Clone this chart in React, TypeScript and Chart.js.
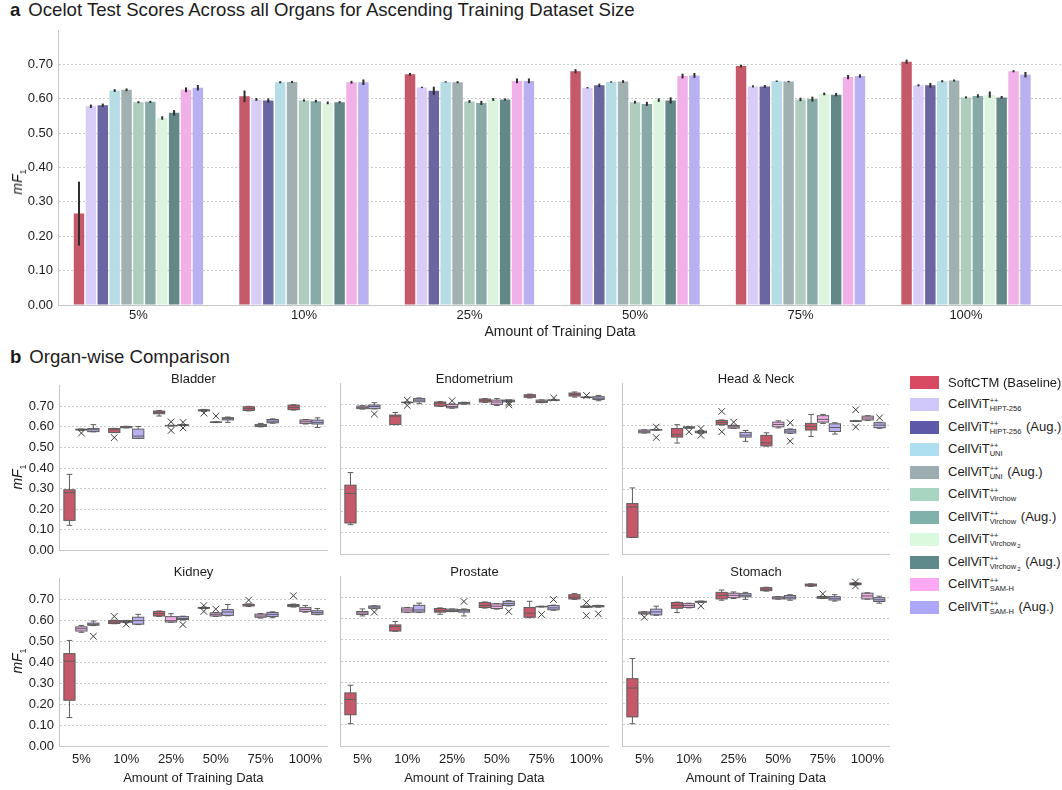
import { useEffect, useRef } from 'react';
import { Chart, registerables } from 'chart.js';

Chart.register(...registerables);

const FONT = '"Liberation Sans", Arial, Helvetica, sans-serif';
const TEXT_COLOR = '#1c1c1c';
const AXIS_COLOR = '#c6c6c6';
const GRID_COLOR = '#cbcbcb';
const BOX_EDGE = '#5e5e5e';

// Training-set fractions shown on every x axis
const trainingSizes = ['5%', '10%', '25%', '50%', '75%', '100%'];
const sizeIndex = [0, 1, 2, 3, 4, 5];

// Panel a: mean mF1 on the Ocelot test set, one array per model
const softctmMean = [0.266, 0.607, 0.671, 0.680, 0.695, 0.708];
const hipt256Mean = [0.578, 0.598, 0.633, 0.632, 0.636, 0.639];
const hipt256AugMean = [0.581, 0.595, 0.623, 0.639, 0.636, 0.639];
const uniMean = [0.624, 0.648, 0.649, 0.649, 0.651, 0.651];
const uniAugMean = [0.626, 0.649, 0.648, 0.650, 0.650, 0.653];
const virchowMean = [0.590, 0.595, 0.592, 0.590, 0.598, 0.604];
const virchowAugMean = [0.591, 0.593, 0.588, 0.585, 0.599, 0.608];
const virchow2Mean = [0.544, 0.588, 0.598, 0.596, 0.614, 0.612];
const virchow2AugMean = [0.559, 0.590, 0.598, 0.595, 0.612, 0.604];
const samhMean = [0.626, 0.648, 0.652, 0.666, 0.663, 0.680];
const samhAugMean = [0.632, 0.648, 0.652, 0.668, 0.666, 0.670];

// Panel a: half-length of each error bar
const softctmErr = [0.093, 0.017, 0.004, 0.006, 0.004, 0.006];
const hipt256Err = [0.005, 0.004, 0.002, 0.002, 0.003, 0.003];
const hipt256AugErr = [0.005, 0.006, 0.012, 0.005, 0.004, 0.007];
const uniErr = [0.004, 0.003, 0.002, 0.002, 0.002, 0.003];
const uniAugErr = [0.004, 0.003, 0.003, 0.004, 0.002, 0.003];
const virchowErr = [0.003, 0.003, 0.004, 0.004, 0.005, 0.003];
const virchowAugErr = [0.003, 0.004, 0.006, 0.006, 0.007, 0.005];
const virchow2Err = [0.005, 0.004, 0.004, 0.005, 0.004, 0.009];
const virchow2AugErr = [0.008, 0.003, 0.003, 0.009, 0.005, 0.004];
const samhErr = [0.007, 0.004, 0.007, 0.007, 0.006, 0.003];
const samhAugErr = [0.008, 0.008, 0.007, 0.007, 0.005, 0.008];

const overviewMeans = [
  softctmMean, hipt256Mean, hipt256AugMean, uniMean, uniAugMean, virchowMean,
  virchowAugMean, virchow2Mean, virchow2AugMean, samhMean, samhAugMean,
];
const overviewErrors = [
  softctmErr, hipt256Err, hipt256AugErr, uniErr, uniAugErr, virchowErr,
  virchowAugErr, virchow2Err, virchow2AugErr, samhErr, samhAugErr,
];

const modelLabels = [
  'SoftCTM (Baseline)', 'CellViT++ HIPT-256', 'CellViT++ HIPT-256 (Aug.)', 'CellViT++ UNI',
  'CellViT++ UNI (Aug.)', 'CellViT++ Virchow', 'CellViT++ Virchow (Aug.)', 'CellViT++ Virchow2',
  'CellViT++ Virchow2 (Aug.)', 'CellViT++ SAM-H', 'CellViT++ SAM-H (Aug.)',
];
const barColors = [
  '#c5596a', '#d8cdf6', '#6a66a1', '#b6dce6', '#a1b0b1', '#aecdbf',
  '#87aaa6', '#dcf4de', '#648888', '#f2b0e9', '#b8b0f0',
];
const legendColors = [
  '#d74a62', '#d0c8fb', '#5d59a8', '#aedff0', '#9badb0', '#a8d5c1',
  '#80b1aa', '#dbfadd', '#5f8a8b', '#fda8f2', '#aca7f8',
];

// Legend text pieces: CellViT++ with subscript backbone name
const legendBackbones = ['', 'HIPT-256', 'HIPT-256', 'UNI', 'UNI', 'Virchow', 'Virchow', 'Virchow', 'Virchow', 'SAM-H', 'SAM-H'];
const legendBackboneIndex = ['', '', '', '', '', '', '', '2', '2', '', ''];
const legendSuffixes = ['', '', ' (Aug.)', '', ' (Aug.)', '', ' (Aug.)', '', ' (Aug.)', '', ' (Aug.)'];

// Panel b: box statistics per training fraction: [whisker low, Q1, median, Q3, whisker high]
type Box = [number, number, number, number, number];
// Outliers: [series (0 SoftCTM, 1 SAM-H, 2 SAM-H Aug.), training-fraction index, value]
type Outlier = [number, number, number];

const boxSeries = ['SoftCTM (Baseline)', 'CellViT++ SAM-H', 'CellViT++ SAM-H (Aug.)'];
const boxColors = ['#c5596a', '#f2b0e9', '#b8b0f0'];

const bladderSoftCTM: Box[] = [
  [0.121, 0.145, 0.280, 0.294, 0.369], [0.572, 0.573, 0.586, 0.592, 0.593], [0.653, 0.664, 0.670, 0.677, 0.680],
  [0.676, 0.678, 0.680, 0.683, 0.685], [0.678, 0.680, 0.689, 0.698, 0.700], [0.682, 0.684, 0.695, 0.706, 0.708],
];
const bladderSamH: Box[] = [
  [0.583, 0.585, 0.587, 0.589, 0.590], [0.595, 0.596, 0.599, 0.602, 0.603], [0.604, 0.605, 0.606, 0.607, 0.608],
  [0.621, 0.622, 0.623, 0.624, 0.625], [0.600, 0.602, 0.606, 0.612, 0.617], [0.614, 0.617, 0.625, 0.634, 0.636],
];
const bladderSamHAug: Box[] = [
  [0.576, 0.577, 0.586, 0.592, 0.611], [0.544, 0.544, 0.555, 0.589, 0.602], [0.607, 0.608, 0.609, 0.610, 0.611],
  [0.622, 0.634, 0.640, 0.645, 0.648], [0.618, 0.620, 0.628, 0.636, 0.639], [0.597, 0.614, 0.622, 0.633, 0.644],
];
const bladderOutliers: Outlier[] = [
  [1, 0, 0.570], [0, 1, 0.548], [1, 2, 0.625], [1, 2, 0.583], [2, 2, 0.622], [2, 2, 0.595], [0, 3, 0.667], [1, 3, 0.653],
];

const endometriumSoftCTM: Box[] = [
  [0.137, 0.145, 0.283, 0.322, 0.381], [0.605, 0.606, 0.645, 0.650, 0.662], [0.690, 0.692, 0.705, 0.711, 0.713],
  [0.709, 0.711, 0.719, 0.725, 0.727], [0.730, 0.733, 0.740, 0.745, 0.748], [0.734, 0.739, 0.746, 0.753, 0.758],
];
const endometriumSamH: Box[] = [
  [0.678, 0.680, 0.686, 0.692, 0.694], [0.707, 0.708, 0.709, 0.710, 0.711], [0.682, 0.684, 0.690, 0.700, 0.702],
  [0.695, 0.700, 0.711, 0.720, 0.727], [0.708, 0.709, 0.714, 0.720, 0.721], [0.731, 0.732, 0.733, 0.734, 0.735],
];
const endometriumSamHAug: Box[] = [
  [0.679, 0.680, 0.690, 0.697, 0.708], [0.703, 0.712, 0.720, 0.727, 0.730], [0.701, 0.702, 0.705, 0.709, 0.710],
  [0.712, 0.712, 0.716, 0.720, 0.721], [0.719, 0.719, 0.720, 0.721, 0.722], [0.717, 0.723, 0.729, 0.736, 0.742],
];
const endometriumOutliers: Outlier[] = [
  [2, 0, 0.655], [1, 1, 0.720], [1, 1, 0.695], [1, 2, 0.717], [2, 3, 0.708], [2, 3, 0.698], [2, 4, 0.730], [1, 5, 0.742],
];

const headNeckSoftCTM: Box[] = [
  [0.077, 0.078, 0.220, 0.236, 0.309], [0.519, 0.547, 0.558, 0.587, 0.605], [0.603, 0.605, 0.615, 0.625, 0.627],
  [0.505, 0.506, 0.520, 0.555, 0.567], [0.550, 0.580, 0.597, 0.611, 0.653], [0.620, 0.621, 0.622, 0.623, 0.624],
];
const headNeckSamH: Box[] = [
  [0.566, 0.567, 0.574, 0.580, 0.581], [0.588, 0.589, 0.592, 0.595, 0.596], [0.588, 0.589, 0.595, 0.601, 0.603],
  [0.590, 0.595, 0.606, 0.617, 0.623], [0.611, 0.617, 0.630, 0.647, 0.653], [0.625, 0.627, 0.636, 0.645, 0.647],
];
const headNeckSamHAug: Box[] = [
  [0.579, 0.580, 0.581, 0.582, 0.583], [0.565, 0.567, 0.571, 0.575, 0.577], [0.527, 0.547, 0.556, 0.569, 0.578],
  [0.564, 0.566, 0.575, 0.583, 0.585], [0.561, 0.573, 0.592, 0.609, 0.614], [0.588, 0.591, 0.603, 0.614, 0.616],
];
const headNeckOutliers: Outlier[] = [
  [2, 0, 0.594], [2, 0, 0.545], [1, 1, 0.572], [2, 1, 0.587], [2, 1, 0.555], [0, 2, 0.667], [0, 2, 0.572],
  [1, 2, 0.617], [2, 3, 0.614], [2, 3, 0.528], [0, 5, 0.675], [0, 5, 0.594], [2, 5, 0.637],
];

const kidneySoftCTM: Box[] = [
  [0.136, 0.219, 0.406, 0.442, 0.505], [0.585, 0.586, 0.593, 0.600, 0.602], [0.620, 0.622, 0.633, 0.644, 0.646],
  [0.658, 0.659, 0.661, 0.663, 0.664], [0.668, 0.670, 0.674, 0.678, 0.680], [0.665, 0.667, 0.672, 0.677, 0.679],
];
const kidneySamH: Box[] = [
  [0.544, 0.550, 0.561, 0.570, 0.577], [0.590, 0.592, 0.596, 0.600, 0.601], [0.592, 0.593, 0.600, 0.619, 0.633],
  [0.620, 0.622, 0.630, 0.637, 0.639], [0.612, 0.616, 0.622, 0.631, 0.634], [0.640, 0.644, 0.653, 0.662, 0.672],
];
const kidneySamHAug: Box[] = [
  [0.576, 0.578, 0.582, 0.588, 0.598], [0.581, 0.583, 0.600, 0.616, 0.630], [0.603, 0.605, 0.610, 0.619, 0.621],
  [0.623, 0.625, 0.641, 0.653, 0.677], [0.614, 0.620, 0.630, 0.639, 0.642], [0.628, 0.630, 0.638, 0.647, 0.658],
];
const kidneyOutliers: Outlier[] = [
  [2, 0, 0.525], [0, 1, 0.620], [1, 1, 0.583], [2, 2, 0.581], [0, 3, 0.672], [0, 3, 0.644], [1, 3, 0.655],
  [0, 4, 0.698], [0, 5, 0.719],
];

const prostateSoftCTM: Box[] = [
  [0.105, 0.147, 0.219, 0.250, 0.286], [0.540, 0.541, 0.562, 0.570, 0.586], [0.620, 0.630, 0.636, 0.647, 0.650],
  [0.649, 0.652, 0.662, 0.675, 0.678], [0.604, 0.606, 0.625, 0.652, 0.681], [0.690, 0.692, 0.700, 0.712, 0.717],
];
const prostateSamH: Box[] = [
  [0.612, 0.619, 0.626, 0.633, 0.645], [0.628, 0.630, 0.640, 0.650, 0.652], [0.632, 0.633, 0.638, 0.644, 0.645],
  [0.644, 0.647, 0.658, 0.669, 0.670], [0.654, 0.655, 0.656, 0.657, 0.658], [0.652, 0.653, 0.655, 0.658, 0.659],
];
const prostateSamHAug: Box[] = [
  [0.646, 0.648, 0.654, 0.659, 0.660], [0.628, 0.630, 0.640, 0.662, 0.672], [0.612, 0.630, 0.636, 0.642, 0.645],
  [0.659, 0.661, 0.670, 0.681, 0.684], [0.639, 0.641, 0.650, 0.661, 0.663], [0.653, 0.655, 0.658, 0.661, 0.662],
];
const prostateOutliers: Outlier[] = [
  [2, 0, 0.630], [2, 2, 0.680], [2, 3, 0.633], [1, 4, 0.619], [2, 4, 0.689], [1, 5, 0.675], [1, 5, 0.614], [2, 5, 0.622],
];

const stomachSoftCTM: Box[] = [
  [0.105, 0.137, 0.273, 0.317, 0.412], [0.628, 0.648, 0.662, 0.675, 0.677], [0.686, 0.692, 0.709, 0.723, 0.734],
  [0.729, 0.731, 0.738, 0.745, 0.747], [0.751, 0.753, 0.757, 0.762, 0.763], [0.758, 0.759, 0.763, 0.767, 0.768],
];
const stomachSamH: Box[] = [
  [0.621, 0.622, 0.626, 0.631, 0.632], [0.650, 0.652, 0.661, 0.670, 0.672], [0.694, 0.698, 0.709, 0.719, 0.725],
  [0.691, 0.692, 0.697, 0.702, 0.703], [0.694, 0.695, 0.699, 0.703, 0.704], [0.691, 0.692, 0.706, 0.719, 0.721],
];
const stomachSamHAug: Box[] = [
  [0.615, 0.617, 0.631, 0.644, 0.658], [0.676, 0.677, 0.679, 0.681, 0.682], [0.690, 0.702, 0.709, 0.717, 0.723],
  [0.686, 0.692, 0.700, 0.708, 0.712], [0.682, 0.687, 0.695, 0.703, 0.712], [0.672, 0.680, 0.688, 0.698, 0.705],
];
const stomachOutliers: Outlier[] = [
  [1, 0, 0.606], [2, 1, 0.659], [1, 4, 0.716], [0, 5, 0.772], [0, 5, 0.753],
];

const organPanels = [
  { name: 'Bladder', stats: [bladderSoftCTM, bladderSamH, bladderSamHAug], outliers: bladderOutliers },
  { name: 'Endometrium', stats: [endometriumSoftCTM, endometriumSamH, endometriumSamHAug], outliers: endometriumOutliers },
  { name: 'Head & Neck', stats: [headNeckSoftCTM, headNeckSamH, headNeckSamHAug], outliers: headNeckOutliers },
  { name: 'Kidney', stats: [kidneySoftCTM, kidneySamH, kidneySamHAug], outliers: kidneyOutliers },
  { name: 'Prostate', stats: [prostateSoftCTM, prostateSamH, prostateSamHAug], outliers: prostateOutliers },
  { name: 'Stomach', stats: [stomachSoftCTM, stomachSamH, stomachSamHAug], outliers: stomachOutliers },
];

// Layout of the organ grid (plot-area edges in page pixels)
const panelLefts = [59, 340, 622];
const panelWidths = [269, 269, 268];
const rowTops = [383, 576];
const rowHeights = [171, 170];
const Y_AXIS_W = 50;

const tickFont = { family: FONT, size: 13 };

// Draws the vertical error bar on top of each mean bar
const errorBarPlugin = {
  id: 'errorBars',
  afterDatasetsDraw(chart: any) {
    const { ctx } = chart;
    const y = chart.scales.y;
    ctx.save();
    ctx.strokeStyle = '#2e2e2e';
    ctx.lineWidth = 2;
    chart.data.datasets.forEach((ds: any, di: number) => {
      const meta = chart.getDatasetMeta(di);
      meta.data.forEach((bar: any, j: number) => {
        const v = ds.data[j].y;
        const e = ds.err[j];
        ctx.beginPath();
        ctx.moveTo(bar.x, y.getPixelForValue(v - e));
        ctx.lineTo(bar.x, y.getPixelForValue(v + e));
        ctx.stroke();
      });
    });
    ctx.restore();
  },
};

// Draws box outlines, whiskers, caps, medians and outlier crosses
const boxPlotPlugin = {
  id: 'boxWhiskers',
  afterDatasetsDraw(chart: any) {
    const { ctx } = chart;
    const y = chart.scales.y;
    const seg = (x1: number, y1: number, x2: number, y2: number) => {
      ctx.beginPath();
      ctx.moveTo(x1, y1);
      ctx.lineTo(x2, y2);
      ctx.stroke();
    };
    ctx.save();
    ctx.lineWidth = 1;
    chart.data.datasets.forEach((ds: any, di: number) => {
      const meta = chart.getDatasetMeta(di);
      ds.stats.forEach((s: Box, j: number) => {
        const el = meta.data[j];
        const x = el.x;
        const half = el.width / 2;
        const [lo, q1, med, q3, hi] = s.map((v) => y.getPixelForValue(v));
        ctx.strokeStyle = BOX_EDGE;
        seg(x, q3, x, hi);
        seg(x, q1, x, lo);
        seg(x - half / 2, hi, x + half / 2, hi);
        seg(x - half / 2, lo, x + half / 2, lo);
        ctx.strokeRect(x - half, q3, half * 2, q1 - q3);
        seg(x - half, med, x + half, med);
      });
      ctx.strokeStyle = '#3a3a3a';
      ds.outliers.forEach(([j, v]: [number, number]) => {
        const el = meta.data[j];
        const py = y.getPixelForValue(v);
        const r = 3.3;
        seg(el.x - r, py - r, el.x + r, py + r);
        seg(el.x - r, py + r, el.x + r, py - r);
      });
    });
    ctx.restore();
  },
};

function buildOverviewConfig(): any {
  return {
    type: 'bar',
    data: {
      datasets: modelLabels.map((label, i) => ({
        label,
        data: overviewMeans[i].map((v, k) => ({ x: sizeIndex[k], y: v })),
        err: overviewErrors[i],
        backgroundColor: barColors[i],
        borderWidth: 0,
        categoryPercentage: 0.79,
        barPercentage: 0.88,
      })),
    },
    options: {
      responsive: false,
      animation: false,
      layout: { padding: { top: 30, left: 0, right: 0, bottom: 0 } },
      plugins: { legend: { display: false }, tooltip: { enabled: false } },
      scales: {
        x: {
          type: 'linear',
          min: -0.486,
          max: 5.58,
          offset: false,
          afterBuildTicks: (s: any) => {
            s.ticks = sizeIndex.map((v) => ({ value: v }));
          },
          afterFit: (s: any) => {
            s.height = 40;
          },
          grid: { display: false, drawTicks: false },
          border: { color: AXIS_COLOR, width: 1 },
          ticks: {
            callback: (v: number) => trainingSizes[v] ?? '',
            font: tickFont,
            color: TEXT_COLOR,
            padding: 3,
            maxRotation: 0,
            autoSkip: false,
          },
          title: {
            display: true,
            text: 'Amount of Training Data',
            font: { family: FONT, size: 14 },
            color: TEXT_COLOR,
            padding: { top: 0, bottom: 4 },
          },
        },
        y: {
          min: 0,
          max: 0.8,
          afterFit: (s: any) => {
            s.width = 58;
          },
          ticks: {
            stepSize: 0.05,
            callback: (v: number) => {
              const r = Math.round(v * 100);
              return r % 10 === 0 && r <= 70 ? v.toFixed(2) : '';
            },
            font: tickFont,
            color: TEXT_COLOR,
            padding: 5,
          },
          grid: {
            drawTicks: false,
            lineWidth: 1,
            color: (c: any) => (c.tick && c.tick.value > 0.001 && c.tick.value < 0.799 ? GRID_COLOR : 'rgba(0,0,0,0)'),
          },
          border: { color: AXIS_COLOR, width: 1, dash: [2, 2] },
        },
      },
    },
    plugins: [errorBarPlugin],
  };
}

function buildOrganConfig(panel: (typeof organPanels)[number], firstCol: boolean, bottomRow: boolean): any {
  return {
    type: 'bar',
    data: {
      labels: trainingSizes,
      datasets: boxSeries.map((label, m) => ({
        label,
        data: panel.stats[m].map((s) => [s[1], s[3]]),
        stats: panel.stats[m],
        outliers: panel.outliers.filter((o) => o[0] === m).map((o) => [o[1], o[2]]),
        backgroundColor: boxColors[m],
        borderWidth: 0,
        categoryPercentage: 0.8,
        barPercentage: 0.94,
      })),
    },
    options: {
      responsive: false,
      animation: false,
      layout: { padding: { top: 10, left: 0, right: 0, bottom: bottomRow ? 0 : 9 } },
      plugins: { legend: { display: false }, tooltip: { enabled: false } },
      scales: {
        x: {
          afterFit: (s: any) => {
            s.height = bottomRow ? 44 : 0;
          },
          grid: { display: false, drawTicks: false },
          border: { color: AXIS_COLOR, width: 1 },
          ticks: {
            display: bottomRow,
            font: tickFont,
            color: TEXT_COLOR,
            padding: 6,
            maxRotation: 0,
            autoSkip: false,
          },
          title: {
            display: bottomRow,
            text: 'Amount of Training Data',
            font: { family: FONT, size: 13 },
            color: TEXT_COLOR,
            padding: { top: 0, bottom: 4 },
          },
        },
        y: {
          min: 0,
          max: 0.8,
          afterFit: (s: any) => {
            s.width = Y_AXIS_W;
          },
          ticks: {
            display: firstCol,
            stepSize: 0.1,
            callback: (v: number) => (Math.round(v * 100) <= 70 ? v.toFixed(2) : ''),
            font: tickFont,
            color: TEXT_COLOR,
            padding: 5,
          },
          grid: {
            drawTicks: false,
            lineWidth: 1,
            color: (c: any) => (c.tick && c.tick.value > 0.001 && c.tick.value < 0.799 ? GRID_COLOR : 'rgba(0,0,0,0)'),
          },
          border: { color: AXIS_COLOR, width: 1, dash: [2, 2] },
        },
      },
    },
    plugins: [boxPlotPlugin],
  };
}

function ChartCanvas(props: { left: number; top: number; width: number; height: number; makeConfig: () => any }) {
  const { left, top, width, height, makeConfig } = props;
  const ref = useRef<HTMLCanvasElement>(null);
  useEffect(() => {
    if (!ref.current) return;
    const chart = new Chart(ref.current, makeConfig());
    return () => chart.destroy();
  }, []);
  return (
    <canvas
      ref={ref}
      width={width}
      height={height}
      style={{ position: 'absolute', left, top, width, height }}
    />
  );
}

function MF1Label({ x, y }: { x: number; y: number }) {
  return (
    <div
      style={{
        position: 'absolute',
        left: x,
        top: y,
        transform: 'translate(-50%, -50%) rotate(-90deg)',
        fontFamily: FONT,
        fontSize: 14,
        color: TEXT_COLOR,
        whiteSpace: 'nowrap',
        lineHeight: '16px',
      }}
    >
      <i>mF</i>
      <span style={{ fontSize: 9, position: 'relative', top: 4 }}>1</span>
    </div>
  );
}

function LegendLabel({ i }: { i: number }) {
  if (i === 0) return <span>{modelLabels[0]}</span>;
  return (
    <span>
      CellViT
      <span
        style={{
          display: 'inline-flex',
          flexDirection: 'column',
          fontSize: 7.5,
          lineHeight: '8px',
          verticalAlign: '5px',
          marginRight: 1,
        }}
      >
        <span>++</span>
        <span>
          {legendBackbones[i]}
          {legendBackboneIndex[i] && (
            <span style={{ fontSize: 6, position: 'relative', top: 2, marginLeft: 1 }}>{legendBackboneIndex[i]}</span>
          )}
        </span>
      </span>
      {legendSuffixes[i]}
    </span>
  );
}

function Legend() {
  return (
    <div style={{ position: 'absolute', left: 910, top: 0 }}>
      {modelLabels.map((_, i) => (
        <div
          key={i}
          style={{
            position: 'absolute',
            left: 0,
            top: 372 + i * 22.5,
            height: 20,
            display: 'flex',
            alignItems: 'center',
            whiteSpace: 'nowrap',
            fontFamily: FONT,
            fontSize: 13,
            color: TEXT_COLOR,
          }}
        >
          <div style={{ width: 29, height: 13, background: legendColors[i], marginRight: 9, flex: 'none' }} />
          <LegendLabel i={i} />
        </div>
      ))}
    </div>
  );
}

function Heading({ letter, text, top }: { letter: string; text: string; top: number }) {
  return (
    <div
      style={{
        position: 'absolute',
        left: 10,
        top,
        fontFamily: FONT,
        fontSize: 18.6,
        lineHeight: '20px',
        color: TEXT_COLOR,
        whiteSpace: 'nowrap',
      }}
    >
      <b style={{ marginRight: 8 }}>{letter}</b>
      {text}
    </div>
  );
}

export default function App() {
  return (
    <div style={{ position: 'absolute', left: 0, top: 0, width: 1062, height: 790, background: '#fff', overflow: 'hidden' }}>
      <Heading letter="a" text="Ocelot Test Scores Across all Organs for Ascending Training Dataset Size" top={0} />
      <ChartCanvas left={0} top={0} width={1062} height={345} makeConfig={buildOverviewConfig} />
      <MF1Label x={18} y={182} />

      <Heading letter="b" text="Organ-wise Comparison" top={347} />
      {organPanels.map((panel, idx) => {
        const row = Math.floor(idx / 3);
        const col = idx % 3;
        const bottomRow = row === 1;
        const plotTop = rowTops[row];
        const plotH = rowHeights[row];
        const canvasTop = plotTop - 10;
        const canvasH = 10 + plotH + (bottomRow ? 44 : 9);
        const canvasLeft = panelLefts[col] - Y_AXIS_W;
        const canvasW = Y_AXIS_W + panelWidths[col];
        return (
          <div key={panel.name}>
            <ChartCanvas
              left={canvasLeft}
              top={canvasTop}
              width={canvasW}
              height={canvasH}
              makeConfig={() => buildOrganConfig(panel, col === 0, bottomRow)}
            />
            <div
              style={{
                position: 'absolute',
                left: panelLefts[col] + panelWidths[col] / 2,
                top: plotTop - 12,
                transform: 'translateX(-50%)',
                fontFamily: FONT,
                fontSize: 13,
                lineHeight: '15px',
                color: TEXT_COLOR,
                whiteSpace: 'nowrap',
              }}
            >
              {panel.name}
            </div>
          </div>
        );
      })}
      <MF1Label x={18} y={477} />
      <MF1Label x={18} y={661} />
      <Legend />
    </div>
  );
}
